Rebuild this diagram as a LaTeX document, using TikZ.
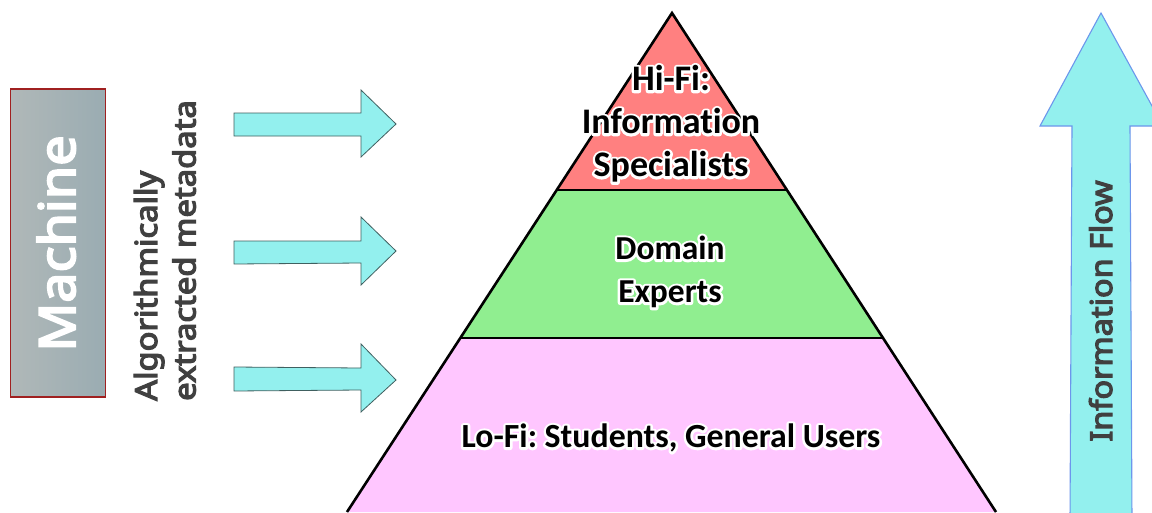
\documentclass[tikz,border=0pt]{standalone}
\usepackage{fontspec}
\setmainfont[Ligatures=NoCommon]{Carlito}
\newfontfamily\sidefont[FakeBold=4,FakeStretch=1.08]{Noto Sans}
\frenchspacing
\definecolor{flowcyan}{HTML}{93F0EE}
\definecolor{flowedge}{HTML}{6C96EC}
\definecolor{tiphi}{HTML}{FF8080}
\definecolor{midgreen}{HTML}{90EE90}
\definecolor{lowpink}{HTML}{FFC6FF}
\definecolor{machL}{HTML}{B0B8B8}
\definecolor{machR}{HTML}{9AACB2}
\definecolor{machedge}{HTML}{A02020}
\definecolor{darktext}{HTML}{404040}
\definecolor{arrowedge}{HTML}{406060}
\newcommand{\halotext}[1]{\leavevmode\rlap{\special{pdf:code q 1 Tr 1 1 1 RG 5 w 1 j}#1\special{pdf:code 0 Tr Q}}#1}
\tikzset{
  tier/.style={font=\bfseries\fontsize{33.5}{43}\selectfont,text=black,align=center,inner sep=0pt},
  sidelabel/.style={rotate=90,inner sep=0pt},
  fatarrow/.style={fill=flowcyan,draw=arrowedge,line width=0.8pt,line join=miter}
}
\begin{document}
\begin{tikzpicture}[x=1pt,y=-1pt]
\useasboundingbox (0,0) rectangle (1152,512);
\path[fill=white] (0,0) rectangle (1152,512);
% pyramid
\fill[lowpink] (460,338) -- (882,338) -- (996,512) -- (347,512) -- cycle;
\fill[midgreen] (557,190) -- (787,190) -- (882,338) -- (460,338) -- cycle;
\fill[tiphi] (672,13) -- (787,190) -- (557,190) -- cycle;
\draw[black,line width=1.6pt] (460,338) -- (882,338);
\draw[black,line width=1.6pt] (557,190) -- (787,190);
\draw[black,line width=2.6pt,line join=miter] (347,512) -- (672,13) -- (996,512);
% machine
\shade[left color=machL,right color=machR] (10.5,89) rectangle (105.5,397);
\draw[draw=machedge,line width=1.1pt] (10.5,89) rectangle (105.5,397);
\node[sidelabel,text=white,anchor=base,font=\sidefont\fontsize{50}{50}\selectfont] (machine) at (75,243.5) {Machine};
\node[sidelabel,text=darktext,align=left,font=\sidefont\fontsize{30.3}{38.5}\selectfont,anchor=south west] (algo) at (196,401) {Algorithmically\\extracted metadata};
% left arrows
\draw[fatarrow] (234,113) -- (361,113) -- (361,90) -- (396,124) -- (361,157) -- (361,136) -- (234,136) -- cycle;
\draw[fatarrow] (234,241) -- (361,241) -- (361,217) -- (396,251) -- (361,285) -- (361,263) -- (234,264) -- cycle;
\draw[fatarrow] (234,367) -- (361,368) -- (361,344) -- (396,380) -- (361,412) -- (361,390) -- (234,391) -- cycle;
% right arrow
\draw[fill=flowcyan,draw=flowedge,line width=1.1pt,line join=miter] (1101,13) -- (1163,126) -- (1130,126) -- (1132,520) -- (1070,520) -- (1072,126) -- (1040,126) -- cycle;
\node[sidelabel,text=darktext,anchor=base,font=\sidefont\fontsize{30}{30}\selectfont] (flow) at (1112,311) {Information Flow};
% tier labels
\node[tier,font=\bfseries\fontsize{36}{43}\selectfont] (hifi) at (671,124) {\halotext{Hi-Fi:}\\\halotext{Information}\\\halotext{Specialists}};
\node[tier] (domain) at (670,272) {\halotext{Domain}\\\halotext{Experts}};
\node[tier,font=\bfseries\fontsize{33.8}{43}\selectfont] (lofi) at (671,438) {\halotext{Lo-Fi: Students, General Users}};
\end{tikzpicture}
\end{document}
